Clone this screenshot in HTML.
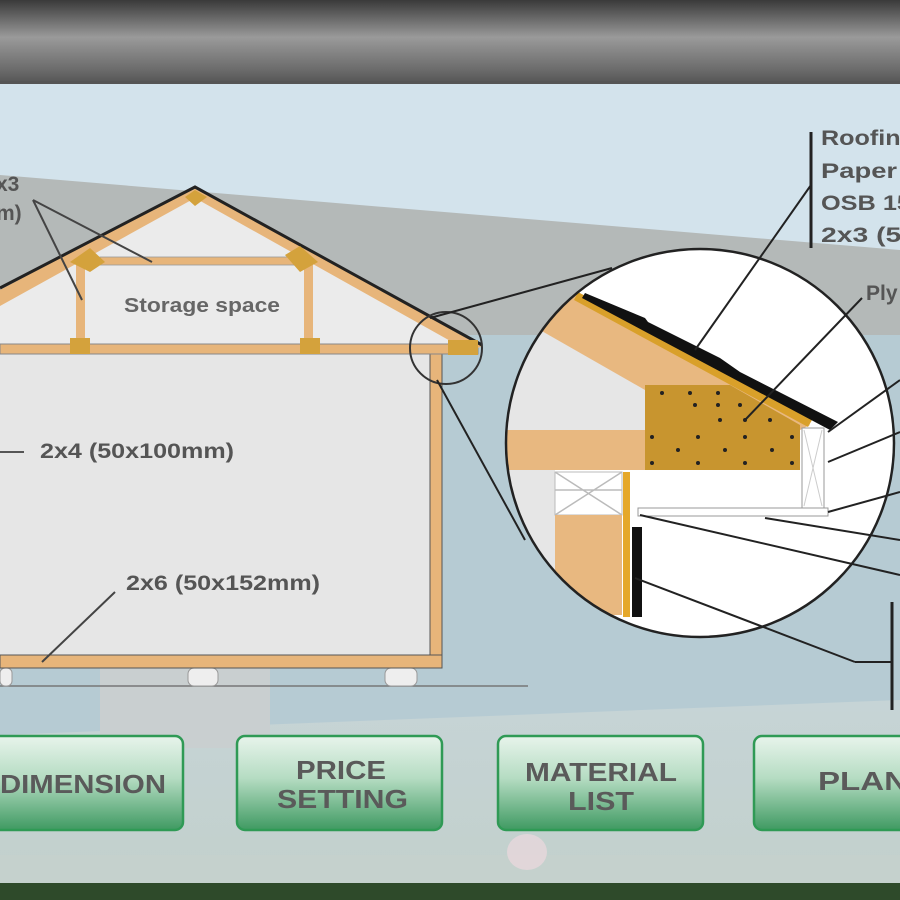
<!DOCTYPE html>
<html><head><meta charset="utf-8"><style>
html,body{margin:0;padding:0;width:900px;height:900px;overflow:hidden;background:#cfd9d8}
svg{display:block}
text{font-family:"Liberation Sans",Arial,sans-serif;font-weight:bold}
</style></head><body>
<svg width="900" height="900" viewBox="0 0 900 900" xmlns="http://www.w3.org/2000/svg">
<defs>
<linearGradient id="top" x1="0" y1="0" x2="0" y2="1">
<stop offset="0" stop-color="#3a3a3a"/><stop offset="0.45" stop-color="#9a9a9a"/><stop offset="0.85" stop-color="#6a6a6a"/><stop offset="1" stop-color="#555"/>
</linearGradient>
<linearGradient id="btn" x1="0" y1="0" x2="0" y2="1">
<stop offset="0" stop-color="#e8f4ec"/><stop offset="0.45" stop-color="#b5dcc2"/><stop offset="1" stop-color="#3f9a62"/>
</linearGradient>
<linearGradient id="ground" x1="0" y1="0" x2="0" y2="1">
<stop offset="0" stop-color="#c6d4d6"/><stop offset="1" stop-color="#c2d0cc"/>
</linearGradient>
<clipPath id="cc"><circle cx="700" cy="443" r="194"/></clipPath>
</defs>
<rect x="0" y="0" width="900" height="900" fill="#d3e3ec"/>
<polygon points="0,175 900,250 900,340 0,340" fill="#b4b9b8"/>
<rect x="0" y="335" width="900" height="400" fill="#b6cbd3"/>
<polygon points="0,735 900,700 900,885 0,885" fill="url(#ground)"/>
<rect x="0" y="855" width="900" height="30" fill="#c5d1cd"/>
<rect x="0" y="883" width="900" height="17" fill="#2e4a2a"/>
<rect x="0" y="0" width="900" height="83" fill="url(#top)"/>
<rect x="0" y="81" width="900" height="3" fill="#555"/>
<rect x="100" y="668" width="170" height="80" fill="#c9cfd0"/>
<line x1="0" y1="686" x2="528" y2="686" stroke="#777" stroke-width="1.5"/>
<rect x="0" y="668" width="12" height="18" rx="5" fill="#eee" stroke="#999"/>
<rect x="188" y="668" width="30" height="18" rx="6" fill="#eee" stroke="#999"/>
<rect x="385" y="668" width="32" height="18" rx="6" fill="#eee" stroke="#999"/>
<polygon points="0,300 195,190 478,350 0,350" fill="#ebebeb"/>
<rect x="0" y="354" width="440" height="304" fill="#e6e6e6"/>
<rect x="430" y="352" width="12" height="306" fill="#e7b57a" stroke="#555" stroke-width="1"/>
<rect x="0" y="655" width="442" height="13" fill="#e7b57a" stroke="#555" stroke-width="1"/>
<rect x="0" y="344" width="478" height="10" fill="#e7b57a" stroke="#888" stroke-width="1"/>
<polygon points="0,290 195,186 482,346 470,352 195,198 0,306" fill="#e7b57a"/>
<polyline points="0,288 195,187 482,345" fill="none" stroke="#222" stroke-width="3"/>
<rect x="100" y="257" width="195" height="8" fill="#e7b57a" stroke="#999" stroke-width="0.8"/>
<rect x="76" y="265" width="9" height="82" fill="#e7b57a"/>
<rect x="304" y="265" width="9" height="82" fill="#e7b57a"/>
<polygon points="70,262 90,248 105,262 90,272" fill="#d4a23c"/>
<polygon points="285,255 300,246 318,262 300,272" fill="#d4a23c"/>
<polygon points="185,197 195,190 207,197 195,206" fill="#d4a23c"/>
<rect x="70" y="338" width="20" height="16" fill="#d4a23c"/>
<rect x="300" y="338" width="20" height="16" fill="#d4a23c"/>
<polygon points="448,340 478,340 478,355 448,355" fill="#d4a23c"/>
<text x="124" y="312" font-size="20" fill="#666" textLength="156" lengthAdjust="spacingAndGlyphs">Storage space</text>
<text x="40" y="458" font-size="21" fill="#555" textLength="194" lengthAdjust="spacingAndGlyphs">2x4 (50x100mm)</text>
<line x1="0" y1="452" x2="24" y2="452" stroke="#555" stroke-width="2"/>
<text x="126" y="590" font-size="21" fill="#555" textLength="194" lengthAdjust="spacingAndGlyphs">2x6 (50x152mm)</text>
<line x1="115" y1="592" x2="42" y2="662" stroke="#444" stroke-width="2"/>
<text x="-4" y="191" font-size="21" fill="#555">x3</text>
<text x="-4" y="220" font-size="21" fill="#555">m)</text>
<line x1="33" y1="200" x2="82" y2="300" stroke="#444" stroke-width="2"/>
<line x1="33" y1="200" x2="152" y2="262" stroke="#444" stroke-width="2"/>
<circle cx="446" cy="348" r="36" fill="none" stroke="#333" stroke-width="2"/>
<line x1="430" y1="318" x2="612" y2="268" stroke="#222" stroke-width="2"/>
<line x1="437" y1="380" x2="525" y2="540" stroke="#222" stroke-width="2"/>
<g clip-path="url(#cc)">
<rect x="500" y="245" width="400" height="395" fill="#fff"/>
<polygon points="500,300 575,300 645,360 645,432 500,432" fill="#e6e6e6"/>
<polygon points="540,285 580,295 810,425 800,430 645,390 540,330" fill="#e8b880"/>
<polygon points="578,292 812,420 808,427 574,300" fill="#d9a02a"/>
<polygon points="585,293 645,318 648,322 720,358 740,372 838,422 830,430 582,298" fill="#111"/>
<polygon points="645,385 730,385 800,425 800,470 645,470" fill="#c8952f"/>
<g fill="#222">
<circle cx="662" cy="393" r="2"/><circle cx="690" cy="393" r="2"/><circle cx="718" cy="393" r="2"/>
<circle cx="695" cy="405" r="2"/><circle cx="718" cy="405" r="2"/><circle cx="740" cy="405" r="2"/>
<circle cx="720" cy="420" r="2"/><circle cx="745" cy="420" r="2"/><circle cx="770" cy="420" r="2"/>
<circle cx="652" cy="437" r="2"/><circle cx="698" cy="437" r="2"/><circle cx="745" cy="437" r="2"/><circle cx="792" cy="437" r="2"/>
<circle cx="678" cy="450" r="2"/><circle cx="725" cy="450" r="2"/><circle cx="772" cy="450" r="2"/>
<circle cx="652" cy="463" r="2"/><circle cx="698" cy="463" r="2"/><circle cx="745" cy="463" r="2"/><circle cx="792" cy="463" r="2"/>
</g>
<rect x="500" y="430" width="145" height="40" fill="#e8b880"/>
<rect x="500" y="470" width="55" height="170" fill="#e6e6e6"/>
<rect x="555" y="472" width="67" height="43" fill="#fff" stroke="#bbb"/>
<path d="M555,472 L622,515 M622,472 L555,515 M555,490 L622,490" stroke="#bbb" stroke-width="1.5"/>
<rect x="555" y="515" width="67" height="100" fill="#e8b880"/>
<rect x="623" y="472" width="7" height="145" fill="#e5a82a"/>
<rect x="632" y="527" width="10" height="90" fill="#111"/>
<rect x="802" y="428" width="22" height="80" fill="#fff" stroke="#999"/>
<path d="M804,430 L822,506 M822,430 L804,506" stroke="#ccc"/>
<rect x="638" y="508" width="190" height="8" fill="#fff" stroke="#999"/>
</g>
<circle cx="700" cy="443" r="194" fill="none" stroke="#222" stroke-width="2.5"/>
<line x1="811" y1="132" x2="811" y2="248" stroke="#222" stroke-width="3"/>
<line x1="811" y1="185" x2="695" y2="350" stroke="#222" stroke-width="2"/>
<g font-size="21" fill="#555">
<text x="821" y="145" textLength="95" lengthAdjust="spacingAndGlyphs">Roofing</text>
<text x="821" y="178" textLength="108" lengthAdjust="spacingAndGlyphs">Paper m</text>
<text x="821" y="210" textLength="90" lengthAdjust="spacingAndGlyphs">OSB 15</text>
<text x="821" y="242" textLength="96" lengthAdjust="spacingAndGlyphs">2x3 (50</text>
<text x="866" y="300">Ply</text>
</g>
<line x1="862" y1="298" x2="745" y2="420" stroke="#222" stroke-width="2"/>
<line x1="828" y1="432" x2="900" y2="380" stroke="#222" stroke-width="2"/>
<line x1="828" y1="462" x2="900" y2="432" stroke="#222" stroke-width="2"/>
<line x1="828" y1="512" x2="900" y2="492" stroke="#222" stroke-width="2"/>
<line x1="765" y1="518" x2="900" y2="540" stroke="#222" stroke-width="2"/>
<line x1="640" y1="515" x2="900" y2="575" stroke="#222" stroke-width="2"/>
<line x1="635" y1="578" x2="855" y2="662" stroke="#222" stroke-width="2"/>
<line x1="855" y1="662" x2="892" y2="662" stroke="#222" stroke-width="2"/>
<line x1="892" y1="602" x2="892" y2="710" stroke="#222" stroke-width="3"/>
<g stroke="#2f9a55" stroke-width="2.5">
<rect x="-10" y="736" width="193" height="94" rx="8" fill="url(#btn)"/>
<rect x="237" y="736" width="205" height="94" rx="8" fill="url(#btn)"/>
<rect x="498" y="736" width="205" height="94" rx="8" fill="url(#btn)"/>
<rect x="754" y="736" width="160" height="94" rx="8" fill="url(#btn)"/>
</g>
<g font-size="26" fill="#5a5a5a" lengthAdjust="spacingAndGlyphs">
<text x="0" y="793" textLength="166" lengthAdjust="spacingAndGlyphs">DIMENSION</text>
<text x="296" y="779" textLength="90" lengthAdjust="spacingAndGlyphs">PRICE</text>
<text x="277" y="808" textLength="131" lengthAdjust="spacingAndGlyphs">SETTING</text>
<text x="525" y="781" textLength="152" lengthAdjust="spacingAndGlyphs">MATERIAL</text>
<text x="568" y="810" textLength="66" lengthAdjust="spacingAndGlyphs">LIST</text>
<text x="818" y="790" textLength="90" lengthAdjust="spacingAndGlyphs">PLAN</text>
</g>
<ellipse cx="527" cy="852" rx="20" ry="18" fill="#e7d7dc" opacity="0.8"/>
</svg>
</body></html>
